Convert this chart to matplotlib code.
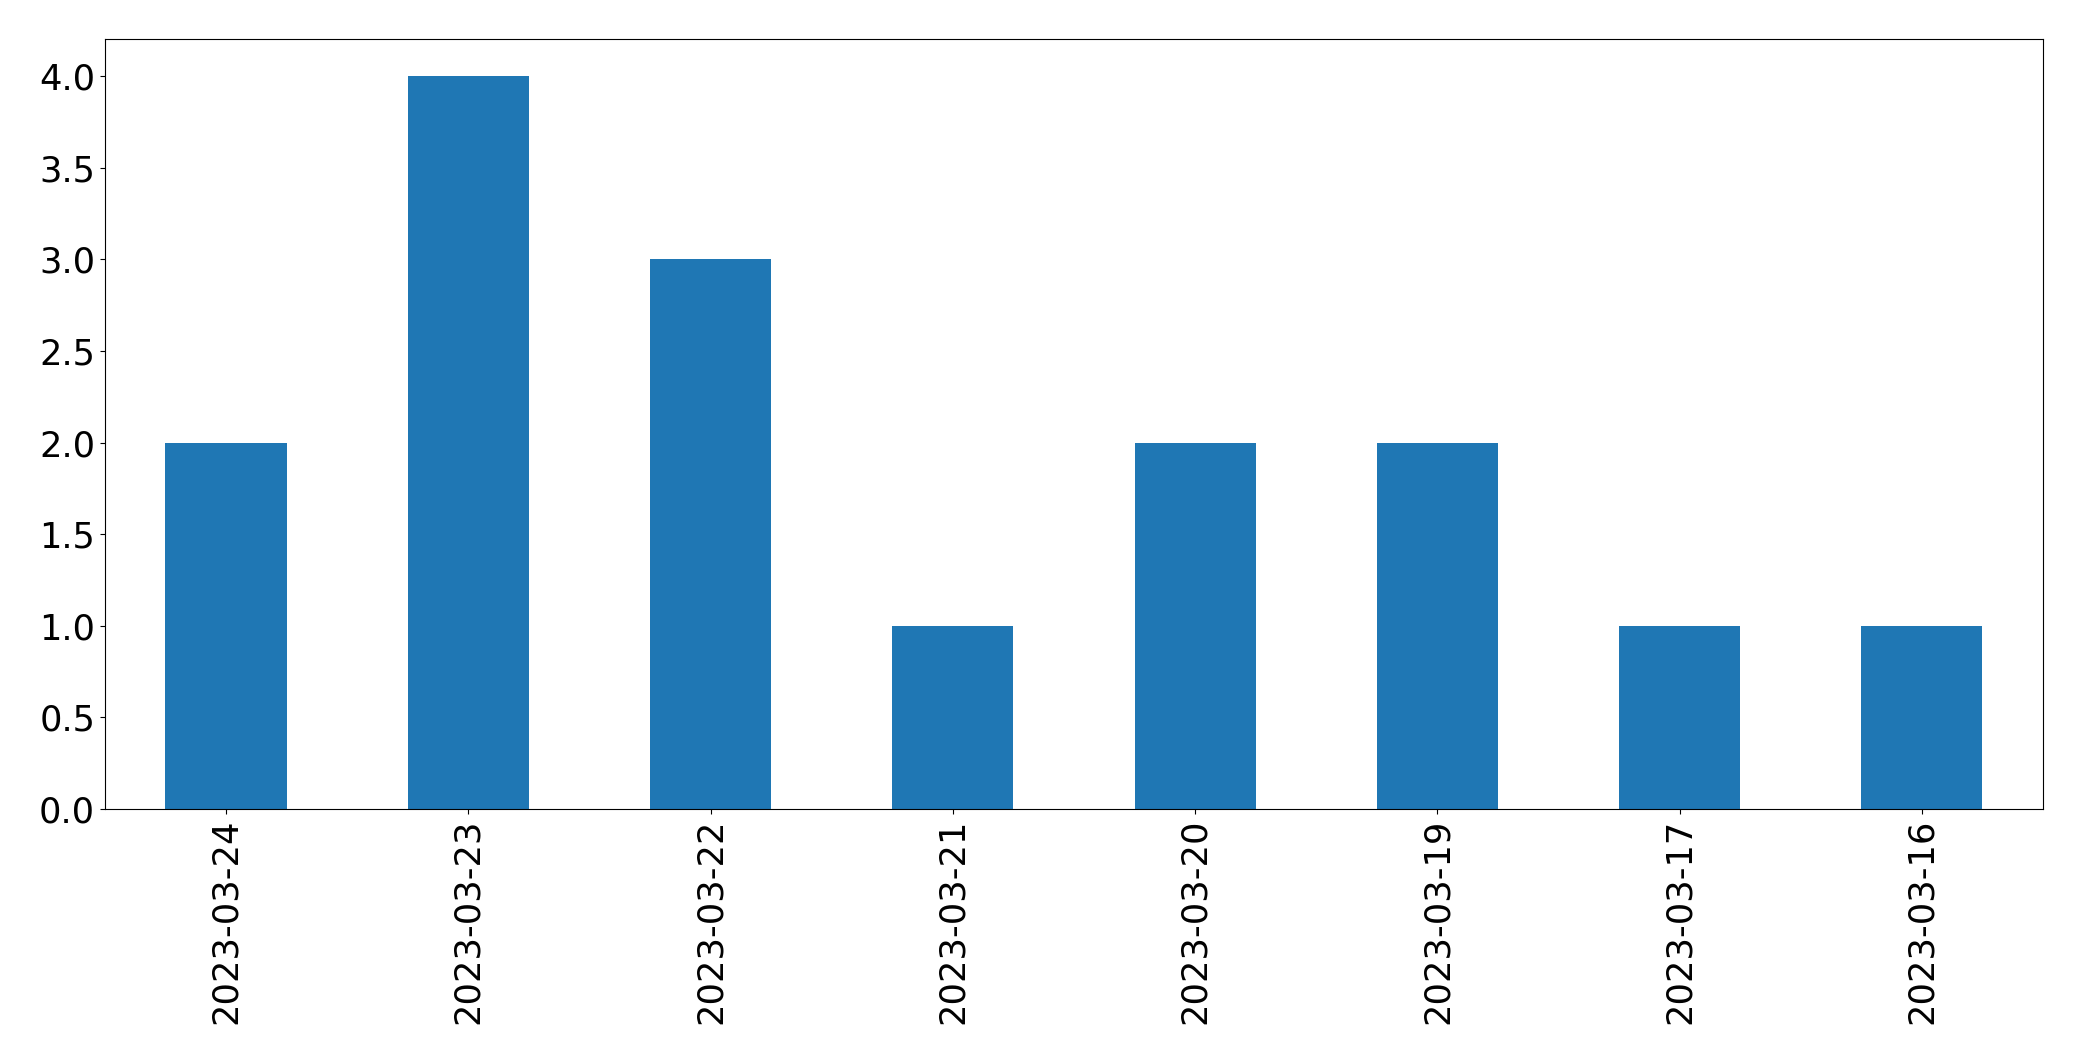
import matplotlib
matplotlib.use("Agg")
import matplotlib.pyplot as plt
import numpy as np

dates = ["2023-03-24", "2023-03-23", "2023-03-22", "2023-03-21",
         "2023-03-20", "2023-03-19", "2023-03-17", "2023-03-16"]
counts = [2, 4, 3, 1, 2, 2, 1, 1]

fig = plt.figure(figsize=(20.82, 10.61), dpi=100)
ax = fig.add_axes([0.0504, 0.2375, 0.9309, 0.7253])

x = np.arange(len(dates))
ax.bar(x, counts, width=0.5, color="#1f77b4")
ax.set_xlim(-0.5, len(dates) - 0.5)
ax.set_ylim(0, 4.2)
ax.set_xticks(x)
ax.set_xticklabels(dates, rotation=90)
ax.set_yticks(np.arange(0, 4.01, 0.5))
ax.tick_params(labelsize=25.4)

fig.savefig("out.png", dpi=100)
